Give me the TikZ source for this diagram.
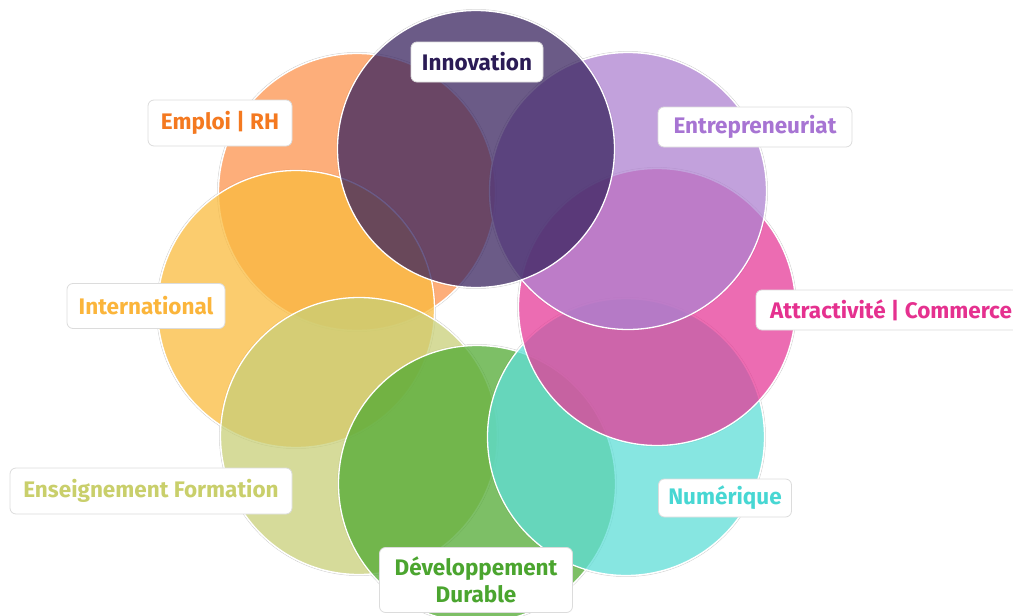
\documentclass[tikz,border=0pt]{standalone}
\usepackage{fontspec}
\setmainfont{Fira Sans}
\definecolor{cEmp}{HTML}{FC934D}
\definecolor{cInt}{HTML}{FABB3E}
\definecolor{cEns}{HTML}{C8CF78}
\definecolor{cDev}{HTML}{52AA33}
\definecolor{cNum}{HTML}{5FDED7}
\definecolor{cAtt}{HTML}{E63B98}
\definecolor{cEnt}{HTML}{AE82D0}
\definecolor{cInn}{HTML}{39245F}
\definecolor{tEmp}{HTML}{F47920}
\definecolor{tInt}{HTML}{FBB53B}
\definecolor{tEns}{HTML}{C9CF6B}
\definecolor{tDev}{HTML}{4BA52F}
\definecolor{tNum}{HTML}{47D7D3}
\definecolor{tAtt}{HTML}{E5318F}
\definecolor{tEnt}{HTML}{A774D3}
\definecolor{tInn}{HTML}{2B1B55}
\definecolor{boxline}{HTML}{DCDCDC}
\tikzset{
  circ/.style={circle, minimum size=277, inner sep=0pt, fill opacity=0.75, draw=white, line width=1.3pt},
  halo/.style={draw=black!18, line width=0.5pt},
  lab/.style={draw=boxline, fill=white, rounded corners=6pt, line width=0.8pt, inner sep=0pt,
    font=\fontsize{22.5}{25}\selectfont\bfseries, align=center}
}
\begin{document}
\begin{tikzpicture}[x=1pt,y=-1pt]
\useasboundingbox (0,0) rectangle (1013,616);
\clip (0,0) rectangle (1013,616);
% centres
\coordinate (pEmp) at (357,192);
\coordinate (pInt) at (296,309);
\coordinate (pEns) at (359,436);
\coordinate (pDev) at (477,484);
\coordinate (pNum) at (626,437);
\coordinate (pAtt) at (657,307);
\coordinate (pEnt) at (628,191);
\coordinate (pInn) at (476,149);
% faint outer outlines
\foreach \p in {pEmp,pInt,pEns,pDev,pNum,pAtt,pEnt,pInn}
  \draw[halo] (\p) circle[radius=139.6];
% circles
\node[circ, fill=cEmp] (cEmp) at (pEmp) {};
\node[circ, fill=cInt] (cInt) at (pInt) {};
\node[circ, fill=cEns] (cEns) at (pEns) {};
\node[circ, fill=cDev] (cDev) at (pDev) {};
\node[circ, fill=cNum] (cNum) at (pNum) {};
\node[circ, fill=cAtt] (cAtt) at (pAtt) {};
\node[circ, fill=cEnt] (cEnt) at (pEnt) {};
\node[circ, fill=cInn] (cInn) at (pInn) {};
% labels
\node[lab, text=tEmp, minimum width=144, minimum height=46] (lEmp) at (220,123) {Emploi | RH};
\node[lab, text=tInn, minimum width=132, minimum height=40] (lInn) at (477,62) {Innovation};
\node[lab, text=tEnt, minimum width=194, minimum height=40] (lEnt) at (755,127) {Entrepreneuriat};
\node[lab, text=tAtt, minimum width=270, minimum height=40] (lAtt) at (891,310) {Attractivité | Commerce};
\node[lab, text=tInt, minimum width=158, minimum height=45] (lInt) at (146,306) {International};
\node[lab, text=tEns, minimum width=282, minimum height=46] (lEns) at (151,491) {Enseignement Formation};
\node[lab, text=tNum, minimum width=133, minimum height=38] (lNum) at (725,498) {Numérique};
\node[lab, text=tDev, minimum width=193, minimum height=65, font=\fontsize{22.5}{27}\selectfont\bfseries] (lDev) at (476,580) {Développement\\Durable};
\end{tikzpicture}
\end{document}
